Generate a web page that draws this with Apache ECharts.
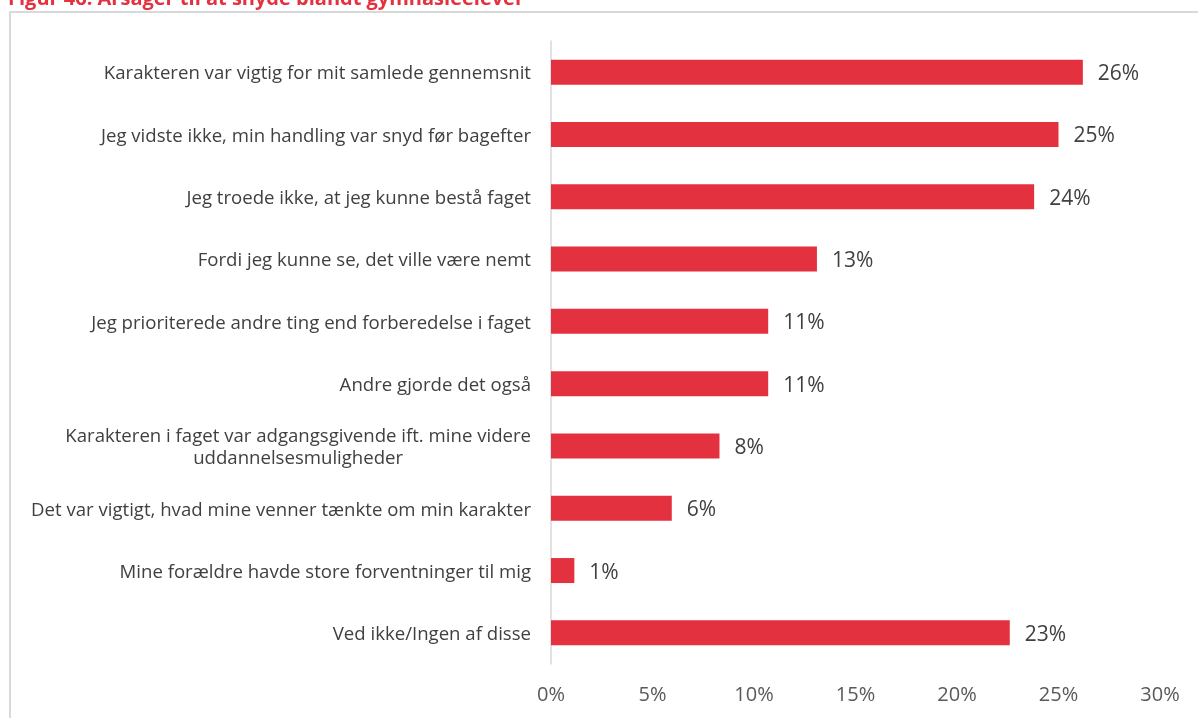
<!DOCTYPE html>
<html>
<head>
<meta charset="utf-8">
<script src="https://cdn.jsdelivr.net/npm/echarts@6/dist/echarts.min.js"></script>
<style>
  html, body { margin: 0; padding: 0; background: #fff; }
  #chart { width: 1198px; height: 718px; }
</style>
</head>
<body>
<div id="chart"></div>
<script>
// Reasons for cheating among upper-secondary students (share of respondents, %)
const reasons = [
  'Karakteren var vigtig for mit samlede gennemsnit',
  'Jeg vidste ikke, min handling var snyd før bagefter',
  'Jeg troede ikke, at jeg kunne bestå faget',
  'Fordi jeg kunne se, det ville være nemt',
  'Jeg prioriterede andre ting end forberedelse i faget',
  'Andre gjorde det også',
  'Karakteren i faget var adgangsgivende ift. mine videre\nuddannelsesmuligheder',
  'Det var vigtigt, hvad mine venner tænkte om min karakter',
  'Mine forældre havde store forventninger til mig',
  'Ved ikke/Ingen af disse'
];
const shares = [26.2, 25.0, 23.8, 13.1, 10.7, 10.7, 8.3, 5.95, 1.15, 22.6];
const axisTicks = [0, 5, 10, 15, 20, 25, 30];

const FONT = '"Open Sans"';
const RED = '#e4313f';
const TEXT = '#404040';

const chart = echarts.init(document.getElementById('chart'), null, { renderer: 'canvas' });

chart.setOption({
  animation: false,
  backgroundColor: '#ffffff',
  graphic: [
    {
      type: 'rect',
      shape: { x: 10, y: 12, width: 1300, height: 800 },
      style: { fill: 'none', stroke: '#d9d9d9', lineWidth: 2 },
      silent: true
    },
    {
      type: 'text',
      x: 8,
      y: 9.5,
      style: {
        text: 'Figur 46: Årsager til at snyde blandt gymnasieelever',
        fill: RED,
        font: 'bold 20px ' + FONT,
        verticalAlign: 'bottom',
        align: 'left'
      },
      silent: true
    }
  ],
  grid: { left: 551, right: 38, top: 41, bottom: 54, containLabel: false },
  xAxis: {
    type: 'value',
    min: axisTicks[0],
    max: axisTicks[axisTicks.length - 1],
    interval: axisTicks[1] - axisTicks[0],
    axisLine: { show: false },
    axisTick: { show: false },
    splitLine: { show: false },
    axisLabel: {
      formatter: v => v + '%',
      color: '#595959',
      fontFamily: FONT,
      fontSize: 20,
      margin: 21
    }
  },
  yAxis: {
    type: 'category',
    inverse: true,
    data: reasons,
    axisLine: { show: true, lineStyle: { color: '#d9d9d9', width: 1.5 } },
    axisTick: { show: false },
    axisLabel: {
      color: TEXT,
      fontFamily: FONT,
      fontSize: 18.6,
      margin: 20,
      lineHeight: 22,
      padding: [4, 0, 0, 0],
      formatter: v => v.split('\n').map(s => '{c|' + s + '}').join('\n'),
      rich: {
        c: { align: 'center', color: TEXT, fontFamily: FONT, fontSize: 18.6, lineHeight: 22 }
      }
    }
  },
  series: [
    {
      type: 'bar',
      data: shares,
      barWidth: 25,
      itemStyle: { color: RED },
      label: {
        show: true,
        position: 'right',
        distance: 15,
        offset: [0, 2],
        formatter: p => Math.round(p.value) + '%',
        color: TEXT,
        fontFamily: FONT,
        fontSize: 21
      }
    }
  ]
});
</script>
</body>
</html>
